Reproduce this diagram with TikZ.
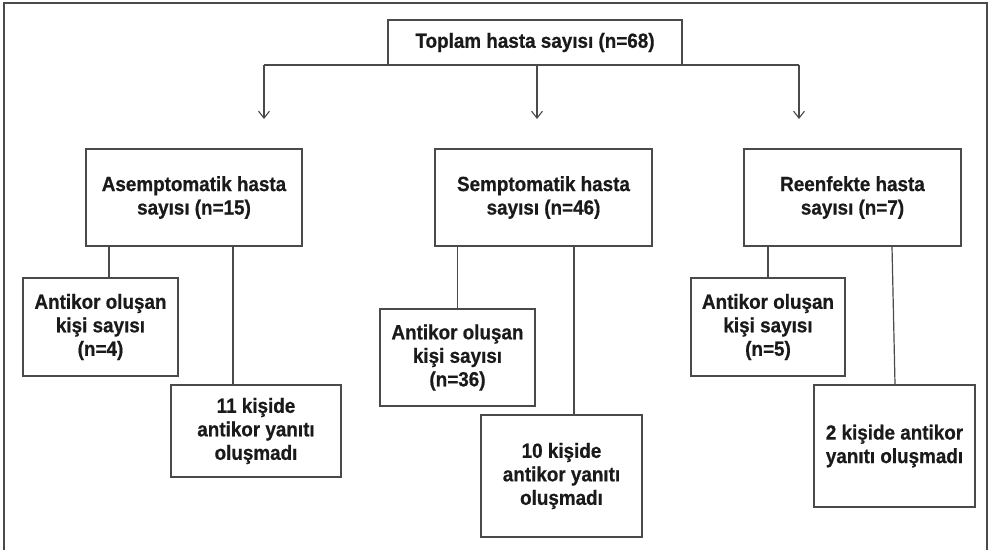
\documentclass[tikz,border=0pt]{standalone}
\usepackage{fontspec}
\setmainfont[FakeStretch=0.92,BoldFeatures={FakeBold=0.6}]{Liberation Sans}
\usetikzlibrary{arrows.meta}
\definecolor{linec}{HTML}{4A4A4A}
\definecolor{textc}{HTML}{1A1A1A}
\begin{document}
\begin{tikzpicture}[x=1pt,y=-1pt,
  box/.style={draw=linec,line width=1.3pt,rectangle,inner sep=0pt,align=center,
    text=textc,font=\bfseries\fontsize{20.5}{23.5}\selectfont},
  conn/.style={draw=linec,line width=1.2pt},
  arr/.style={conn,-{Straight Barb[length=7pt,width=11pt,line width=1.1pt]}}]
\useasboundingbox (0,0) rectangle (990,550);
\fill[white] (0,0) rectangle (990,550);
% outer frame (open at bottom)
\draw[conn] (4,550) -- (4,3) -- (987,3) -- (987,550);

\node[box,minimum width=294pt,minimum height=45pt] (top) at (535,42.5) {Toplam hasta sayısı (n=68)};

\node[box,minimum width=216pt,minimum height=97pt] (asy) at (194,197.5) {Asemptomatik hasta\\sayısı (n=15)};
\node[box,minimum width=217pt,minimum height=97pt] (sym) at (543.5,197.5) {Semptomatik hasta\\sayısı (n=46)};
\node[box,minimum width=217pt,minimum height=97pt] (ree) at (852.5,197.5) {Reenfekte hasta\\sayısı (n=7)};

\node[box,minimum width=155pt,minimum height=98pt] (a1) at (100.5,327) {Antikor oluşan\\kişi sayısı\\(n=4)};
\node[box,minimum width=170pt,minimum height=92pt] (a2) at (256,431) {11 kişide\\antikor yanıtı\\oluşmadı};
\node[box,minimum width=155pt,minimum height=97pt] (s1) at (457.5,357.5) {Antikor oluşan\\kişi sayısı\\(n=36)};
\node[box,minimum width=161pt,minimum height=122pt] (s2) at (561.5,476) {10 kişide\\antikor yanıtı\\oluşmadı};
\node[box,minimum width=154pt,minimum height=98pt] (r1) at (768,327) {Antikor oluşan\\kişi sayısı\\(n=5)};
\node[box,minimum width=161pt,minimum height=122pt] (r2) at (894.5,446) {2 kişide antikor\\yanıtı oluşmadı};

% distribution line and arrows
\coordinate (hL) at (264,65);
\coordinate (hM) at (537,65);
\coordinate (hR) at (799,65);
\coordinate (eL) at (264,119);
\coordinate (eM) at (537,119);
\coordinate (eR) at (799,119);
\draw[conn] (hL) -- (hR);
\draw[arr] (hL) -- (eL);
\draw[arr] (hM) -- (eM);
\draw[arr] (hR) -- (eR);

% level 3 connectors
\draw[conn] (asy.south -| 109,0) -- (a1.north -| 109,0);
\draw[conn] (asy.south -| 233,0) -- (a2.north -| 233,0);
\draw[conn] (sym.south -| s1.north) -- (s1.north);
\draw[conn] (sym.south -| 574,0) -- (s2.north -| 574,0);
\draw[conn] (ree.south -| r1.north) -- (r1.north);
\draw[conn] (ree.south -| 892,0) -- (r2.north -| 895,0);
\end{tikzpicture}
\end{document}
